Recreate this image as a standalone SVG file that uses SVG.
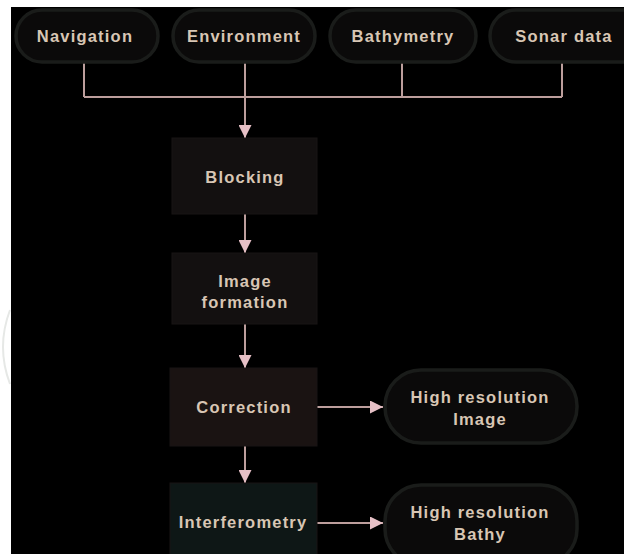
<svg xmlns="http://www.w3.org/2000/svg" width="624" height="554" viewBox="0 0 624 554">
<defs>
<style>
.t{font-family:"Liberation Sans",Arial,sans-serif;font-weight:bold;font-size:16.5px;letter-spacing:1.2px;fill:#d8c6b4;text-anchor:middle}
.pill{fill:#0b0a0a;stroke:#1a1c1a;stroke-width:3.5}
.box{fill:#131010;stroke:#191514;stroke-width:1}
.ln{fill:none;stroke:#bc9e9c;stroke-width:2}
</style>
<marker id="ah" viewBox="0 0 10 10" refX="10" refY="5" markerWidth="13" markerHeight="13" markerUnits="userSpaceOnUse" orient="auto">
<path d="M0,0 L10,5 L0,10 Z" fill="#e6c0c6"/>
</marker>
</defs>
<rect x="0" y="0" width="624" height="554" fill="#ffffff"/>
<rect x="11" y="7" width="613" height="547" fill="#000000"/>
<path d="M10 310 Q -4 347 10 384" fill="none" stroke="#e6e8e6" stroke-width="2"/>
<g id="connectors">
<path class="ln" d="M84 62 V97 M245 62 V97 M402 62 V97 M562 62 V97 M84 97 H562"/>
<path class="ln" d="M245 97 V138" marker-end="url(#ah)"/>
<path class="ln" d="M245 214 V253" marker-end="url(#ah)"/>
<path class="ln" d="M245 324 V368" marker-end="url(#ah)"/>
<path class="ln" d="M245 446 V483" marker-end="url(#ah)"/>
<path class="ln" d="M313 407 H383" marker-end="url(#ah)"/>
<path class="ln" d="M310 523 H383" marker-end="url(#ah)"/>
</g>
<g id="navigation"><rect class="pill" x="16" y="10" width="142" height="52" rx="26"/><text class="t" x="85" y="42">Navigation</text></g>
<g id="environment"><rect class="pill" x="173" y="10" width="142" height="52" rx="26"/><text class="t" x="244" y="42">Environment</text></g>
<g id="bathymetry"><rect class="pill" x="330" y="10" width="146" height="52" rx="26"/><text class="t" x="403" y="42">Bathymetry</text></g>
<g id="sonar-data"><rect class="pill" x="490" y="10" width="160" height="52" rx="26"/><text class="t" x="564" y="42">Sonar data</text></g>
<g id="blocking"><rect class="box" x="172" y="138" width="145" height="76"/><text class="t" x="245" y="183">Blocking</text></g>
<g id="image-formation"><rect class="box" x="172" y="253" width="145" height="71"/><text class="t" x="245" y="287">Image</text><text class="t" x="245" y="308">formation</text></g>
<g id="correction"><rect class="box" x="170" y="368" width="147" height="78" style="fill:#1a1312"/><text class="t" x="244" y="413">Correction</text></g>
<g id="interferometry"><rect class="box" x="170" y="483" width="147" height="80" style="fill:#0e1716"/><text class="t" x="243" y="528">Interferometry</text></g>
<g id="hr-image"><rect class="pill" x="385" y="370" width="192" height="73" rx="36"/><text class="t" x="480" y="403">High resolution</text><text class="t" x="480" y="425">Image</text></g>
<g id="hr-bathy"><rect class="pill" x="385" y="485" width="192" height="80" rx="36"/><text class="t" x="480" y="518">High resolution</text><text class="t" x="480" y="540">Bathy</text></g>
</svg>
